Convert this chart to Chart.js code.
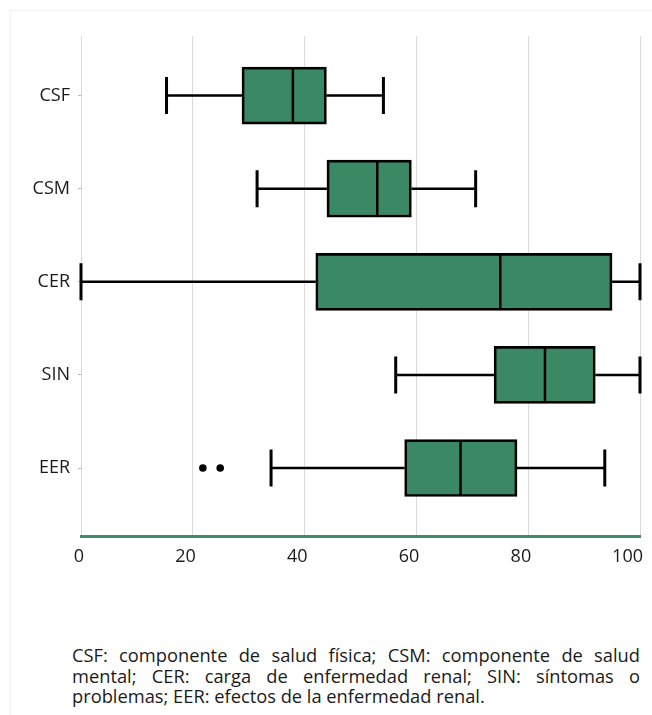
<!DOCTYPE html>
<html>
<head>
<meta charset="utf-8">
<script src="https://cdn.jsdelivr.net/npm/chart.js@4.4.9/dist/chart.umd.min.js"></script>
<style>
    html, body { margin: 0; padding: 0; background: #ffffff; }
    body { width: 652px; height: 715px; position: relative; overflow: hidden; font-family: 'Open Sans', sans-serif; }
    .frame { position: absolute; left: 10px; top: 10px; width: 660px; height: 720px; border-left: 1px solid #eef2ec; border-top: 1px solid #eef2ec; }
    .chart-box { position: absolute; left: 0; top: 0; width: 652px; height: 600px; }
    .note { position: absolute; left: 72px; top: 645px; width: 568px; font-size: 18.3px; line-height: 20.5px; color: #1a1a1a; text-align: justify; }
</style>
</head>
<body>
<div class="frame"></div>
<div class="chart-box"><canvas id="boxChart" width="652" height="600"></canvas></div>
<div class="note">CSF: componente de salud física; CSM: componente de salud mental; CER: carga de enfermedad renal; SIN: síntomas o problemas; EER: efectos de la enfermedad renal.</div>
<script>
const categories = ['CSF', 'CSM', 'CER', 'SIN', 'EER'];
const whiskerLow = [15.3, 31.5, 0, 56.3, 34.0];
const quartile1 = [28.8, 44.0, 42.0, 73.9, 57.9];
const medians = [37.9, 53.0, 75.0, 83.0, 67.9];
const quartile3 = [43.9, 59.1, 95.0, 92.0, 78.0];
const whiskerHigh = [54.1, 70.6, 100, 100, 93.7];
const outliers = [{ cat: 4, value: 21.8 }, { cat: 4, value: 24.9 }];
const xTicks = [0, 20, 40, 60, 80, 100];

const boxFill = '#3a8964';
const ink = '#000000';
const labelFont = { family: "'Open Sans', sans-serif", size: 18 };

// whiskers, caps and medians drawn through the chart's own scales
const boxParts = {
    id: 'boxParts',
    beforeDatasetsDraw(chart) {
        const { ctx, scales: { x, y } } = chart;
        ctx.save();
        ctx.strokeStyle = ink;
        ctx.lineCap = 'butt';
        categories.forEach((c, i) => {
            const py = y.getPixelForValue(i);
            ctx.lineWidth = 2.5;
            ctx.beginPath();
            ctx.moveTo(x.getPixelForValue(whiskerLow[i]), py);
            ctx.lineTo(x.getPixelForValue(quartile1[i]), py);
            ctx.moveTo(x.getPixelForValue(quartile3[i]), py);
            ctx.lineTo(x.getPixelForValue(whiskerHigh[i]), py);
            ctx.stroke();
            ctx.lineWidth = 3;
            ctx.beginPath();
            [whiskerLow[i], whiskerHigh[i]].forEach(v => {
                const px = x.getPixelForValue(v);
                ctx.moveTo(px, py - 18.5);
                ctx.lineTo(px, py + 18.5);
            });
            ctx.stroke();
        });
        ctx.restore();
    },
    afterDatasetsDraw(chart) {
        const { ctx, scales: { x, y } } = chart;
        ctx.save();
        ctx.strokeStyle = ink;
        ctx.lineWidth = 2.5;
        categories.forEach((c, i) => {
            const py = y.getPixelForValue(i);
            const px = x.getPixelForValue(medians[i]);
            ctx.beginPath();
            ctx.moveTo(px, py - 28);
            ctx.lineTo(px, py + 28);
            ctx.stroke();
        });
        ctx.restore();
    }
};

new Chart(document.getElementById('boxChart').getContext('2d'), {
    type: 'bar',
    data: {
        datasets: [
            {
                type: 'bar',
                indexAxis: 'y',
                data: categories.map((c, i) => ({ x: [quartile1[i], quartile3[i]], y: i })),
                backgroundColor: boxFill,
                borderColor: ink,
                borderWidth: 2.7,
                borderSkipped: false,
                barThickness: 57
            },
            {
                type: 'scatter',
                data: outliers.map(o => ({ x: o.value, y: o.cat })),
                backgroundColor: ink,
                borderColor: ink,
                pointRadius: 3.8,
                borderWidth: 0
            }
        ]
    },
    options: {
        responsive: false,
        animation: false,
        layout: { padding: { top: 36, right: 12, left: 0, bottom: 0 } },
        plugins: { legend: { display: false }, tooltip: { enabled: false } },
        scales: {
            x: {
                type: 'linear',
                offset: false,
                min: 0,
                max: 100,
                afterBuildTicks: scale => { scale.ticks = xTicks.map(v => ({ value: v })); },
                afterFit: scale => { scale.height = 64; },
                grid: { color: '#d9d9d9', lineWidth: 1, drawTicks: false, offset: false },
                border: { display: true, color: '#3f8d67', width: 3 },
                ticks: {
                    color: '#1a1a1a',
                    align: 'end',
                    labelOffset: 3,
                    padding: 10,
                    font: labelFont
                }
            },
            y: {
                type: 'linear',
                offset: false,
                reverse: true,
                min: -0.64,
                max: 4.73,
                afterBuildTicks: scale => { scale.ticks = categories.map((c, i) => ({ value: i })); },
                afterFit: scale => { scale.width = 81; },
                grid: { drawOnChartArea: false, drawTicks: true, tickLength: 3, color: '#b5b5b5', offset: false },
                border: { display: false },
                ticks: {
                    color: '#1a1a1a',
                    padding: 8,
                    callback: value => categories[value] ?? '',
                    font: labelFont
                }
            }
        }
    },
    plugins: [boxParts]
});
</script>
</body>
</html>
